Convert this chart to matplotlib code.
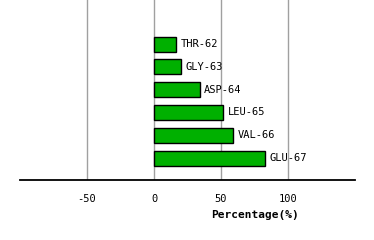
import matplotlib
matplotlib.use("Agg")
import matplotlib.pyplot as plt
import numpy as np

residues = ["GLU-67", "VAL-66", "LEU-65", "ASP-64", "GLY-63", "THR-62"]
percent = [83, 59, 51.5, 34, 20, 16.5]
ticks = [-50, 0, 50, 100]

fig = plt.figure(figsize=(3.74, 2.40), dpi=100)
ax = fig.add_axes([20 / 374, 1 - 180 / 240, 335 / 374, 180 / 240])

y = np.arange(len(residues))
ax.barh(y, percent, height=0.66, color="#00b000", edgecolor="black", linewidth=1.0, zorder=3)
for yi, v, name in zip(y, percent, residues):
    ax.text(v + 3.5, yi, name, va="center", ha="left", fontsize=7.5,
            family="DejaVu Sans Mono", zorder=4)

ax.set_xlim(-100, 150)
ax.set_ylim(-0.96, 6.93)
for t in ticks:
    ax.axvline(t, color="#a0a0a0", linewidth=1.0, zorder=1)

for s in ["top", "right", "left"]:
    ax.spines[s].set_visible(False)
ax.spines["bottom"].set_linewidth(1.3)
ax.set_yticks([])
ax.set_xticks(ticks)
ax.set_xticklabels([str(t) for t in ticks], family="DejaVu Sans Mono", fontsize=7.5)
ax.tick_params(axis="x", length=0, pad=10)

# x label centred over 0..150
ax.annotate("Percentage(%)", xy=(75, 0), xycoords=("data", "axes fraction"),
            xytext=(0, -35), textcoords="offset pixels", ha="center", va="center",
            fontsize=8, fontweight="bold", family="DejaVu Sans Mono")

fig.savefig("out.png", dpi=100)
